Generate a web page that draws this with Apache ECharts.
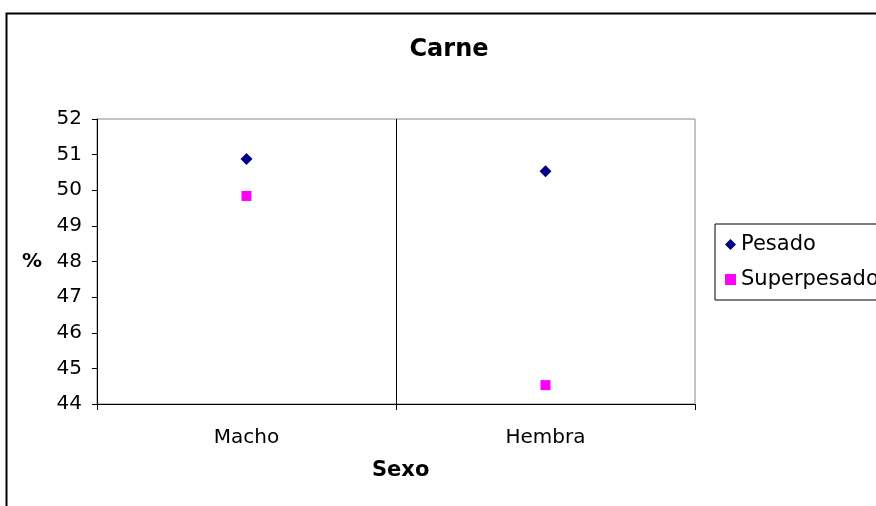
<!DOCTYPE html>
<html>
<head>
<meta charset="utf-8">
<script src="https://cdn.jsdelivr.net/npm/echarts@6/dist/echarts.min.js"></script>
<style>
html,body{margin:0;padding:0;background:#fff;}
#chart{width:876px;height:506px;}
</style>
</head>
<body>
<div id="chart"></div>
<script>
const categories = ['Macho', 'Hembra'];
const pesado = [50.88, 50.53];
const superpesado = [49.84, 44.53];
const seriesNames = ['Pesado', 'Superpesado'];
const yMin = 44, yMax = 52, yStep = 1;

const FONT = 'DejaVu Sans';
const chart = echarts.init(document.getElementById('chart'), null, {renderer: 'canvas'});
chart.setOption({
  backgroundColor: '#fff',
  animation: false,
  title: {
    text: 'Carne',
    left: 444, top: 33,
    textAlign: 'center',
    textStyle: {fontFamily: FONT, fontWeight: 'bold', fontSize: 24, color: '#000'}
  },
  graphic: [
    {type: 'rect', left: 4, top: 11, shape: {width: 900, height: 600}, style: {fill: 'none', stroke: '#000', lineWidth: 2}, silent: true, z: 100},
    {type: 'text', left: 22, top: 252, style: {text: '%', font: 'bold 20px "DejaVu Sans"', fill: '#000'}},
    {type: 'text', left: 372, top: 460, style: {text: 'Sexo', font: 'bold 21px "DejaVu Sans"', fill: '#000'}}
  ],
  legend: {
    orient: 'vertical',
    left: 715, top: 224,
    padding: [10, 6, 10, 10],
    itemGap: 14,
    itemWidth: 11, itemHeight: 11,
    borderColor: '#000', borderWidth: 1,
    textStyle: {fontFamily: FONT, fontSize: 21, color: '#000'},
    data: [{name: seriesNames[0], icon: 'diamond'}, {name: seriesNames[1], icon: 'rect'}]
  },
  grid: {left: 97, top: 119, right: 181, bottom: 102, show: true, borderColor: '#888', borderWidth: 1, backgroundColor: '#fff'},
  xAxis: {
    type: 'category',
    data: categories,
    boundaryGap: true,
    axisLine: {lineStyle: {color: '#000', width: 1}},
    axisTick: {show: true, length: 6, lineStyle: {color: '#000'}},
    axisLabel: {fontFamily: FONT, fontSize: 20, color: '#000', margin: 24},
    splitLine: {show: true, showMinLine: false, showMaxLine: false, lineStyle: {color: '#000', width: 1}}
  },
  yAxis: {
    type: 'value',
    min: yMin, max: yMax, interval: yStep,
    axisLine: {show: true, lineStyle: {color: '#000', width: 1}},
    axisTick: {show: true, length: 5, lineStyle: {color: '#000'}},
    axisLabel: {fontFamily: FONT, fontSize: 20, color: '#000', margin: 15},
    splitLine: {show: false}
  },
  series: [
    {name: seriesNames[0], type: 'scatter', data: pesado, symbol: 'diamond', symbolSize: 12, itemStyle: {color: '#000080', opacity: 1}},
    {name: seriesNames[1], type: 'scatter', data: superpesado, symbol: 'rect', symbolSize: 10, itemStyle: {color: '#FF00FF', opacity: 1}}
  ]
});
</script>
</body>
</html>
